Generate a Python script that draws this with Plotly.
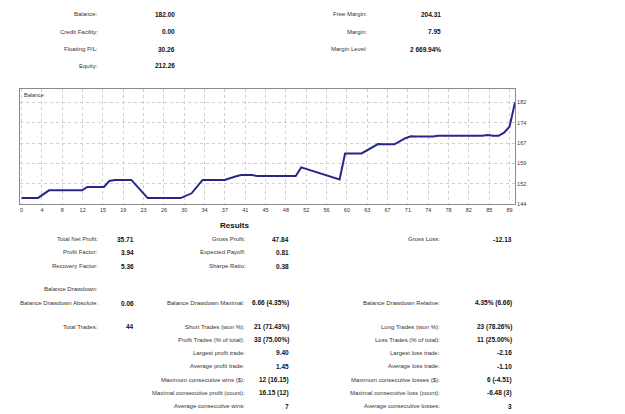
import plotly.graph_objects as go

# ---- Balance curve (breakpoints) ----
trade_no = [0, 3, 5, 11, 12, 15, 16, 17, 20, 23, 29, 31, 33, 37, 39, 40, 42, 43, 50, 51,
            58, 59, 62, 65, 66, 68, 70, 71, 72, 75, 76, 84, 85, 86, 87, 88, 89, 90]
balance = [146.29, 146.29, 149.1, 149.1, 150.4, 150.4, 152.6, 153.0, 153.0, 146.2, 146.2, 148.0,
           153.0, 153.0, 154.3, 154.8, 154.8, 154.5, 154.5, 157.7,
           153.2, 162.9, 162.9, 166.4, 166.3, 166.3, 168.6, 169.3, 169.2, 169.2, 169.5, 169.5,
           169.8, 169.5, 169.5, 170.7, 172.9, 182.0]

x_tick_labels = ["0", "4", "8", "12", "15", "19", "23", "26", "30", "34", "37", "41", "45",
                 "48", "52", "56", "60", "63", "67", "71", "74", "78", "82", "85", "89"]
y_tick_labels = ["144", "152", "159", "167", "174", "182"]

# ---- Account summary ----
acct_left_labels = ["Balance:", "Credit Facility:", "Floating P/L:", "Equity:"]
acct_left_values = ["182.00", "0.00", "30.26", "212.26"]
acct_right_labels = ["Free Margin:", "Margin:", "Margin Level:"]
acct_right_values = ["204.31", "7.95", "2 669.94%"]

# ---- Results ----
res_col1_labels = ["Total Net Profit:", "Profit Factor:", "Recovery Factor:"]
res_col1_values = ["35.71", "3.94", "5.36"]
res_col2_labels = ["Gross Profit:", "Expected Payoff:", "Sharpe Ratio:"]
res_col2_values = ["47.84", "0.81", "0.38"]
res_col3_labels = ["Gross Loss:"]
res_col3_values = ["-12.13"]

dd_labels = ["Balance Drawdown Absolute:", "Balance Drawdown Maximal:", "Balance Drawdown Relative:"]
dd_values = ["0.06", "6.66 (4.35%)", "4.35% (6.66)"]

trades_label = "Total Trades:"
trades_value = "44"
mid_labels = ["Short Trades (won %):", "Profit Trades (% of total):", "Largest profit trade:",
              "Average profit trade:", "Maximum consecutive wins ($):",
              "Maximal consecutive profit (count):", "Average consecutive wins:"]
mid_values = ["21 (71.43%)", "33 (75.00%)", "9.40", "1.45", "12 (16.15)", "16.15 (12)", "7"]
right_labels = ["Long Trades (won %):", "Loss Trades (% of total):", "Largest loss trade:",
                "Average loss trade:", "Maximum consecutive losses ($):",
                "Maximal consecutive loss (count):", "Average consecutive losses:"]
right_values = ["23 (78.26%)", "11 (25.00%)", "-2.16", "-1.10", "6 (-4.51)", "-6.48 (3)", "3"]

W, H = 625, 414
L, R, T, B = 20, 515, 89, 204
FONT = "Liberation Sans"
LAB = dict(family=FONT, size=6, color="#333333")
VAL = dict(family=FONT, size=6.5, color="#111111", weight="bold")


def px(x):
    return (x - L) / (R - L)


def py(y):
    return (B - y) / (B - T)


ann = []


def text(x, y, s, font, anchor="right"):
    ann.append(dict(x=px(x), y=py(y), xref="paper", yref="paper", text=s, showarrow=False,
                    xanchor=anchor, yanchor="middle", font=font))


def pair(lx, vx, y, lab, val):
    text(lx, y, lab, LAB)
    text(vx, y, val, VAL)


acct_rows = [14, 31.7, 49, 65.7]
for i, (lab, val) in enumerate(zip(acct_left_labels, acct_left_values)):
    pair(100, 177, acct_rows[i], lab, val)
for i, (lab, val) in enumerate(zip(acct_right_labels, acct_right_values)):
    pair(369, 443, acct_rows[i], lab, val)

text(234, 225.7, "<b>Results</b>", dict(family=FONT, size=8, color="#111111"), anchor="center")

res_rows = [239, 252.3, 266]
for i, (lab, val) in enumerate(zip(res_col1_labels, res_col1_values)):
    pair(100, 136, res_rows[i], lab, val)
for i, (lab, val) in enumerate(zip(res_col2_labels, res_col2_values)):
    pair(248, 291, res_rows[i], lab, val)
for i, (lab, val) in enumerate(zip(res_col3_labels, res_col3_values)):
    pair(442, 514, res_rows[i], lab, val)

text(100, 289.3, "Balance Drawdown:", LAB)
pair(100, 136, 303.3, dd_labels[0], dd_values[0])
pair(247, 291, 303.3, dd_labels[1], dd_values[1])
pair(442, 514, 303.3, dd_labels[2], dd_values[2])

pair(100, 136, 326.7, trades_label, trades_value)
trade_rows = [326.7, 340, 352.7, 366, 379.7, 392.7, 406]
for i in range(len(mid_labels)):
    pair(247, 291, trade_rows[i], mid_labels[i], mid_values[i])
    pair(442, 514, trade_rows[i], right_labels[i], right_values[i])

# chart caption inside plot
ann.append(dict(x=0.004, y=0.995, xref="paper", yref="paper", text="Balance", showarrow=False,
                xanchor="left", yanchor="top", font=dict(family=FONT, size=5.5, color="#333333")))

fig = go.Figure()
fig.add_trace(go.Scatter(x=trade_no, y=balance, mode="lines",
                         line=dict(color="#27278a", width=2), hoverinfo="skip"))

x_step = 89 / (len(x_tick_labels) - 1)
y_step = 7.6
fig.update_xaxes(range=[-0.3, 90], tickvals=[i * x_step for i in range(len(x_tick_labels))],
                 ticktext=x_tick_labels, showgrid=True, gridcolor="#cfcfcf", griddash="dot",
                 gridwidth=1, zeroline=False, showline=True, linecolor="#8a8a8a", linewidth=1,
                 mirror=True, ticks="", tickfont=dict(family=FONT, size=5.5, color="#333333"))
fig.update_yaxes(range=[144, 187], side="right",
                 tickvals=[144 + i * y_step for i in range(len(y_tick_labels))],
                 ticktext=y_tick_labels, showgrid=True, gridcolor="#cfcfcf", griddash="dot",
                 gridwidth=1, zeroline=False, showline=True, linecolor="#8a8a8a", linewidth=1,
                 mirror=True, ticks="", tickfont=dict(family=FONT, size=5.5, color="#333333"))

fig.update_layout(width=W, height=H, margin=dict(l=L, r=W - R, t=T, b=H - B),
                  paper_bgcolor="white", plot_bgcolor="white", showlegend=False,
                  annotations=ann)
fig.write_html("out.html")
